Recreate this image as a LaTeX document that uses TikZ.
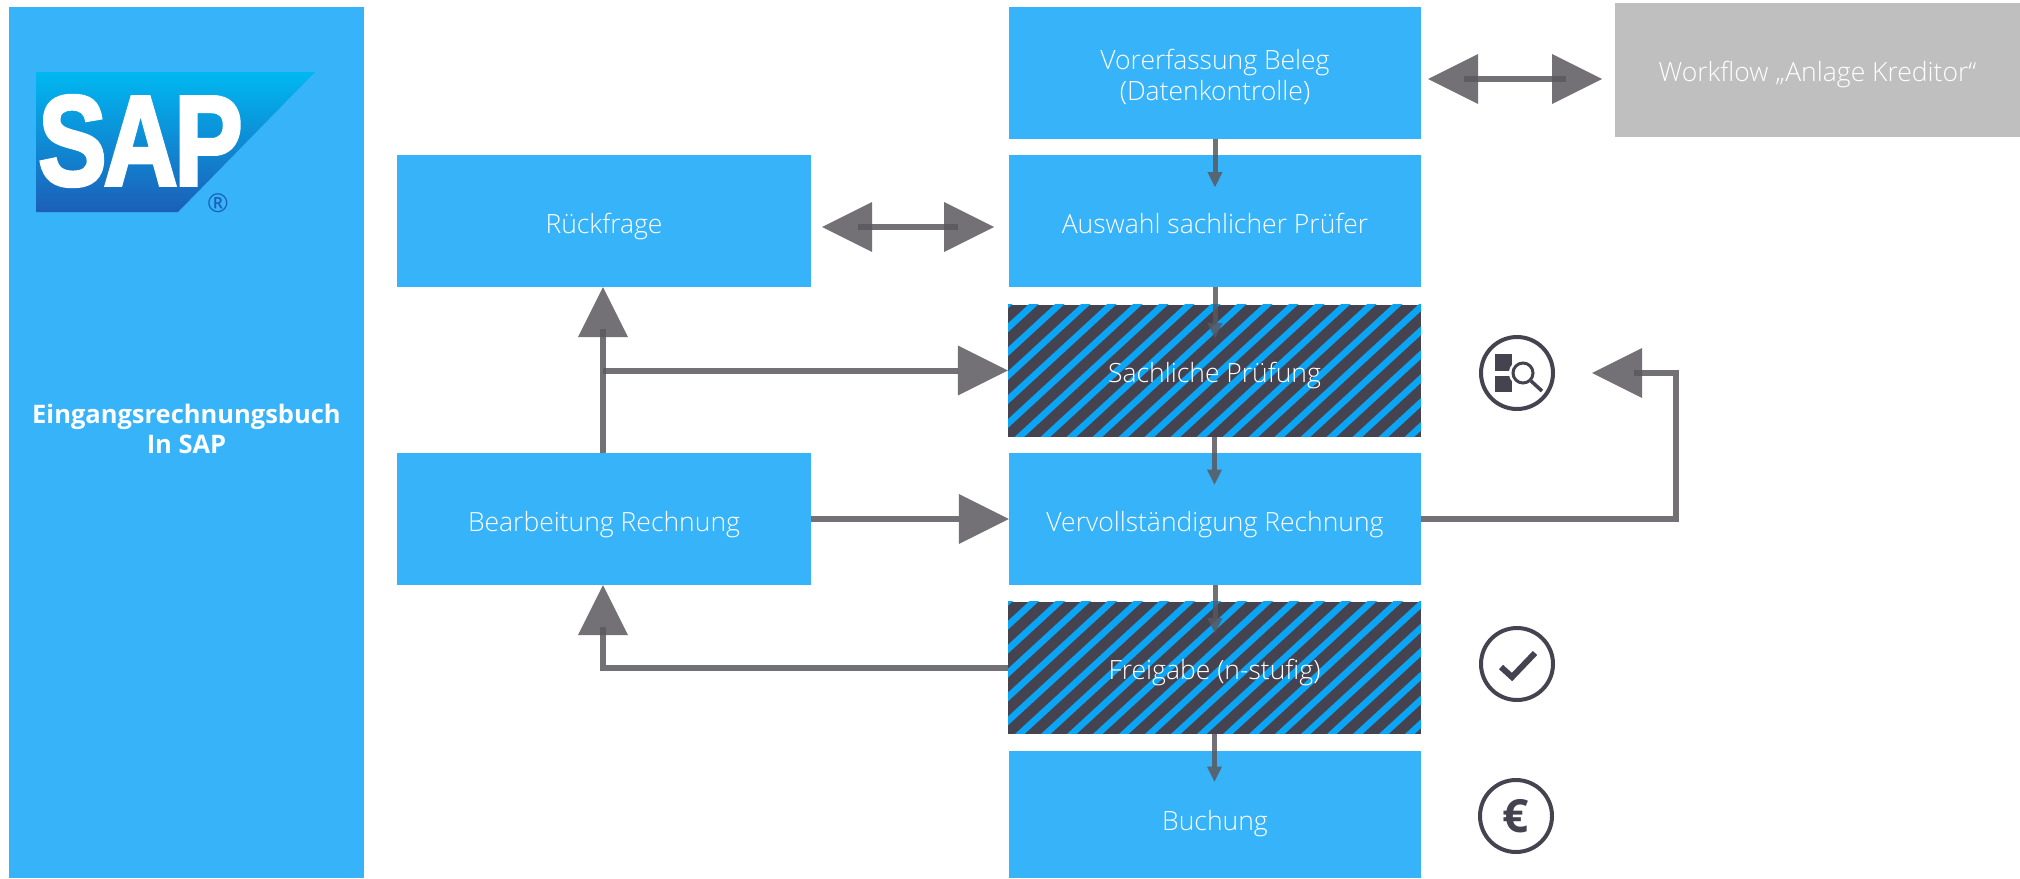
\documentclass[tikz,border=0pt]{standalone}
\usepackage{fontspec}
\setmainfont{Open Sans}
\newfontfamily\lightfont{Open Sans Light}
\newfontfamily\logofont[FakeBold=3,LetterSpace=-3]{Liberation Sans Bold}
\usetikzlibrary{arrows.meta}
\definecolor{boxblue}{HTML}{36B3F9}
\definecolor{stripeblue}{HTML}{0AA5F5}
\definecolor{darkgrey}{HTML}{454350}
\definecolor{arrowgrey}{HTML}{5A585D}
\definecolor{lightgrey}{HTML}{BFBFBF}
\definecolor{logotop}{HTML}{00B8F1}
\definecolor{logobottom}{HTML}{1C5FB8}
\tikzset{
  box/.style={fill=boxblue, text=white, inner sep=0pt, align=center, text depth=0pt, font=\lightfont\fontsize{26.5}{31}\selectfont},
  stepbox/.style={box, text height=24pt, minimum width=412pt, minimum height=132pt},
  sidebox/.style={box, text height=24pt, minimum width=414pt, minimum height=132pt},
  hatchbox/.style={stepbox, minimum width=413pt, fill=darkgrey, path picture={
    \foreach \i in {-14,...,12}
      \draw[stripeblue, line width=6.5pt] (\i*26-12.5,80) -- ++(200,-184);
  }},
  flow/.style={draw=arrowgrey, draw opacity=.85, fill opacity=.85, line width=6pt},
  bigflow/.style={flow, -{Triangle[length=50pt,width=50pt,line width=0pt]}},
  bigboth/.style={flow, {Triangle[length=50pt,width=50pt,line width=0pt]}-{Triangle[length=50pt,width=50pt,line width=0pt]}},
  smallflow/.style={flow, line width=5pt, -{Triangle[length=15pt,width=15pt,line width=0pt]}},
  icon/.style={draw=darkgrey, line width=4pt, circle, minimum size=72pt, inner sep=0pt}
}
\begin{document}
\begin{tikzpicture}[x=1pt,y=-1pt]
\useasboundingbox (0,0) rectangle (2020,878);

% left bar with logo
\node[box, minimum width=355pt, minimum height=871pt, text depth=27pt, font=\fontsize{25.5}{30}\selectfont\bfseries] (bar) at (186.5,442.5) {Eingangsrechnungsbuch\\In SAP};
\shade[top color=logotop, bottom color=logobottom] (36,72) -- (315,72) -- (178,212) -- (36,212) -- cycle;
\node[text=white, inner sep=0pt, font=\logofont\fontsize{128}{128}\selectfont, xscale=0.8] (saptext) at (140.5,141) {SAP};
\node[text=logobottom, inner sep=0pt, font=\fontsize{26}{26}\selectfont] (reg) at (218,203) {®};

% boxes
\node[sidebox] (question) at (604,221) {Rückfrage};
\node[sidebox] (edit) at (604,519) {Bearbeitung Rechnung};
\node[stepbox, text height=54pt] (capture) at (1215,73) {Vorerfassung Beleg\\(Datenkontrolle)};
\node[stepbox] (select) at (1215,221) {Auswahl sachlicher Prüfer};
\node[hatchbox] (check) at (1214.5,370.5) {Sachliche Prüfung};
\node[stepbox] (complete) at (1215,519) {Vervollständigung Rechnung};
\node[hatchbox] (release) at (1214.5,667.5) {Freigabe (n-stufig)};
\node[stepbox, text height=31pt, minimum height=127pt] (post) at (1215,814.5) {Buchung};
\node[box, text height=23pt, fill=lightgrey, minimum width=405pt, minimum height=134pt] (workflow) at (1817.5,70) {Workflow „Anlage Kreditor“};

% icons
\node[icon] (lens) at (1517,373) {};
\node[icon] (tick) at (1517,664) {};
\node[icon, text depth=0pt, font=\bfseries\fontsize{46}{46}\selectfont, text=darkgrey] (euro) at (1516,816) {€};
\fill[darkgrey] (1495,354) rectangle (1512,371);
\fill[darkgrey] (1495,376) rectangle (1512,392);
\fill[white] (1523,373) circle (14pt);
\draw[darkgrey, line width=3pt] (1523,373) circle (10pt);
\draw[darkgrey, line width=3.5pt] (1531,381) -- (1542,391);
\draw[darkgrey, line width=6pt] (1501,667) -- (1512,677) -- (1535,653);

% connectors
\coordinate (leftup) at (603,453);
\coordinate (lensin) at (1592,373);
\coordinate (bendtop) at (1676,373);
\coordinate (bendbot) at (1676,519);
\coordinate (questionleft) at (822,227);
\coordinate (questionright) at (994,227);
\coordinate (workflowleft) at (1428,79);
\coordinate (workflowright) at (1602,79);
\draw[smallflow] (capture.south) -- ++(0,48);
\draw[smallflow] (select.south) -- ++(0,51);
\draw[smallflow] (check.south) -- ++(0,48);
\draw[smallflow] (complete.south) -- ++(0,48);
\draw[smallflow] (release.south) -- ++(0,48);
\draw[bigflow] (edit.north -| leftup) -- (question.south -| leftup);
\draw[bigflow] (check.west -| leftup) -- (check.west);
\draw[bigflow] (edit.east) -- (complete.west);
\draw[bigflow] (complete.east) -- (bendbot) -- (bendtop) -- (lensin);
\draw[bigflow] (release.west) -- (release.west -| leftup) -- (edit.south -| leftup);
\draw[bigboth] (questionleft) -- (questionright);
\draw[bigboth] (workflowleft) -- (workflowright);

% shaft ends showing through the heads
\draw[flow] (question.south -| leftup) ++(0,50) -- ++(0,-8);
\draw[flow] (edit.south -| leftup) ++(0,50) -- ++(0,-8);
\draw[flow] (lensin) ++(50,0) -- ++(-8,0);
\draw[flow] (questionleft) ++(50,0) -- ++(-14,0);
\draw[flow] (questionright) ++(-50,0) -- ++(14,0);
\draw[flow] (workflowleft) ++(50,0) -- ++(-14,0);
\draw[flow] (workflowright) ++(-50,0) -- ++(14,0);
\end{tikzpicture}
\end{document}
